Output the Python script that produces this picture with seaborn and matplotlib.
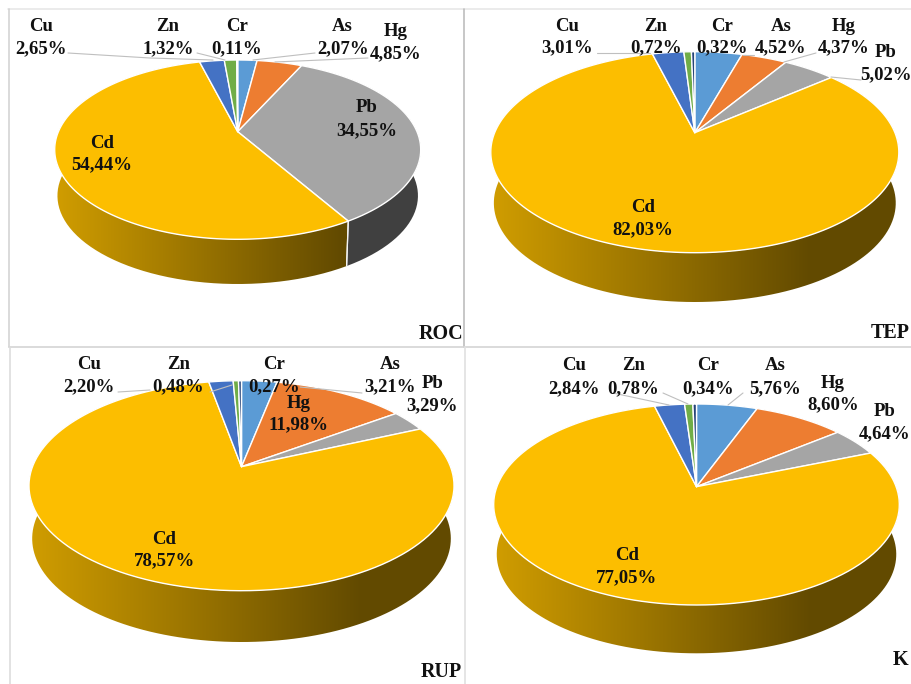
import numpy as np
import matplotlib
matplotlib.use("Agg")
import matplotlib.pyplot as plt
from matplotlib.path import Path
from matplotlib.patches import PathPatch
from matplotlib.transforms import Affine2D
import seaborn as sns

# Slice order runs clockwise from twelve o'clock
METALS = ["As", "Hg", "Pb", "Cd", "Cu", "Zn", "Cr"]
ROC_VALUES = [2.07, 4.85, 34.55, 54.44, 2.65, 1.32, 0.11]
TEP_VALUES = [4.52, 4.37, 5.02, 82.03, 3.01, 0.72, 0.32]
RUP_VALUES = [3.21, 11.98, 3.29, 78.57, 2.20, 0.48, 0.27]
K_VALUES = [5.76, 8.60, 4.64, 77.05, 2.84, 0.78, 0.34]

SLICE_COLORS = ["#5B9BD5", "#ED7D31", "#A5A5A5", "#FCBE00", "#4472C4", "#70AD47", "#264478"]

# Panel geometry in figure pixels: centre x, half width, apex y, top y, bottom y, wall bottom y
ROC_GEOM = (237.7, 183.0, 131.7, 60.0, 239.3, 284.0)
TEP_GEOM = (694.8, 204.0, 132.7, 51.7, 252.7, 302.0)
RUP_GEOM = (241.5, 212.5, 466.7, 380.7, 590.7, 642.0)
K_GEOM = (696.5, 202.8, 486.7, 404.0, 605.0, 653.3)

# Label anchors per metal: x, name y, value y
ROC_LABELS = [(342.7, 26.7, 48.3), (396.0, 31.7, 53.3), (366.7, 108.0, 130.7), (101.7, 144.0, 165.0),
              (40.7, 26.7, 48.3), (168.0, 26.7, 48.3), (236.7, 26.7, 48.3)]
TEP_LABELS = [(781.0, 26.7, 48.0), (843.3, 26.7, 48.0), (886.0, 52.3, 75.0), (643.3, 207.7, 229.3),
              (566.7, 26.7, 48.0), (656.0, 26.7, 48.0), (722.0, 26.7, 48.0)]
RUP_LABELS = [(390.0, 364.3, 386.7), (299.0, 403.3, 424.3), (432.3, 384.0, 405.7), (164.3, 540.0, 561.0),
              (89.3, 364.3, 386.7), (178.3, 364.3, 386.7), (274.3, 364.3, 386.7)]
K_LABELS = [(775.3, 366.0, 388.3), (832.7, 383.3, 405.0), (885.0, 411.7, 434.0), (627.0, 555.0, 577.3),
            (574.0, 366.0, 388.3), (633.3, 366.0, 388.3), (707.7, 366.0, 388.3)]

# Leader lines from outer labels towards their slices
ROC_LEADERS = [[(68, 53), (150, 58), (213, 60)], [(197, 53), (225, 60)], [(315, 53), (253, 60)], [(368, 58), (275, 62)]]
TEP_LEADERS = [[(597, 53), (650, 53)], [(743, 55), (754, 55)], [(784, 62), (816, 53)], [(831, 77), (861, 80)]]
RUP_LEADERS = [[(118, 392), (150, 390)], [(210, 392), (232, 385)], [(362, 393), (300, 387)]]
K_LEADERS = [[(613, 393), (669, 405)], [(663, 393), (688, 404)], [(743, 393), (728, 405)]]

PANELS = [
    ("ROC", ROC_VALUES, ROC_GEOM, ROC_LABELS, ROC_LEADERS, (419.0, 334.0)),
    ("TEP", TEP_VALUES, TEP_GEOM, TEP_LABELS, TEP_LEADERS, (871.0, 333.0)),
    ("RUP", RUP_VALUES, RUP_GEOM, RUP_LABELS, RUP_LEADERS, (420.7, 671.7)),
    ("K", K_VALUES, K_GEOM, K_LABELS, K_LEADERS, (892.7, 660.0)),
]

# Panel rules as (x0, y0, x1, y1, colour)
RULES = [
    (8, 9, 912, 9, "#E8E8E8"),
    (9, 9, 9, 347, "#D4D4D4"),
    (464.5, 9, 464.5, 347, "#BDBDBD"),
    (9, 347, 912, 347, "#D4D4D4"),
    (10, 347, 10, 684, "#DDDDDD"),
    (465.5, 347, 465.5, 684, "#E0E0E0"),
]

WALL_SHRINK = 0.985
LABEL_FONT = ["Liberation Serif", "DejaVu Serif"]

sns.set_theme(style="white")
plt.rcParams["font.family"] = LABEL_FONT
palette = sns.color_palette(SLICE_COLORS)

fig = plt.figure(figsize=(9.12, 6.84), dpi=100, facecolor="white")
ax = fig.add_axes([0, 0, 1, 1])


def make_projection(geom):
    """Tilted-disc projection taking the unit circle to the panel's pixel ellipse."""
    cx, rx, apex_y, top_y, bottom_y, _ = geom
    up, down = apex_y - top_y, bottom_y - apex_y
    k = (down - up) / (down + up)
    t = up * (1 + k)
    s = rx * np.sqrt(1 - k ** 2)

    def project(xy):
        xy = np.asarray(xy, dtype=float)
        w = 1 + k * xy[:, 1]
        return np.column_stack([cx + s * xy[:, 0] / w, apex_y - t * xy[:, 1] / w])

    return project


def wall_offset(points, geom):
    """Lower rim of the disc: the top rim shifted down and slightly narrowed."""
    cx, rx, _, top_y, bottom_y, wall_y = geom
    mid_y = (top_y + bottom_y) / 2
    ry = (bottom_y - top_y) / 2
    drop = wall_y - mid_y - ry * WALL_SHRINK
    out = points.copy()
    out[:, 0] = cx + (points[:, 0] - cx) * WALL_SHRINK
    out[:, 1] = mid_y + (points[:, 1] - mid_y) * WALL_SHRINK + drop
    return out


def wall_gradient(color, geom):
    """Horizontal shading for the side wall, bright on the left and dark to the right."""
    cx, rx, *_ = geom
    ramp = np.clip(np.linspace(0, 1, 400) / 0.78, 0, 1)
    factor = 0.83 + (0.39 - 0.83) * ramp
    rgb = np.outer(factor, np.asarray(color))[None, :, :]
    return rgb, (cx - rx - 2, cx + rx + 2)


for name, values, geom, labels, leaders, tag_xy in PANELS:
    project = make_projection(geom)
    wedges, _ = ax.pie(values, colors=palette, startangle=90, counterclock=False,
                       radius=1.0, center=(0, 0))
    cx, rx, apex_y, top_y, bottom_y, wall_y = geom

    for wedge, color in zip(wedges, palette):
        theta1, theta2 = wedge.theta1, wedge.theta2
        unit_path = wedge.get_path().transformed(wedge.get_patch_transform())
        outline = unit_path.to_polygons(transform=Affine2D().scale(1000), closed_only=True)[0] / 1000
        wedge.remove()

        # Side wall of this slice
        angles = np.radians(np.linspace(theta1, theta2, 160))
        rim = project(np.column_stack([np.cos(angles), np.sin(angles)]))
        lower = wall_offset(rim, geom)
        wall_poly = np.vstack([rim, lower[::-1], rim[:1]])
        wall = PathPatch(Path(wall_poly), facecolor="none", edgecolor="none", transform=ax.transData)
        ax.add_patch(wall)
        rgb, (x0, x1) = wall_gradient(color, geom)
        image = ax.imshow(rgb, extent=(x0, x1, wall_y + 2, top_y), aspect="auto", zorder=1,
                          interpolation="bilinear")
        image.set_clip_path(wall)

        # White seams on the front of the wall
        for end in (0, -1):
            if rim[end, 1] > (top_y + bottom_y) / 2 + 4 and 0.5 < abs(theta2 - theta1):
                ax.plot([rim[end, 0], lower[end, 0]], [rim[end, 1], lower[end, 1]],
                        color="#F4F4F4", lw=0.9, zorder=1.5)

        # Top face of this slice
        top = PathPatch(Path(project(outline), closed=True), facecolor=color, edgecolor="white",
                        linewidth=1.0, joinstyle="round", zorder=2)
        ax.add_patch(top)

    for leader in leaders:
        xs, ys = zip(*leader)
        ax.plot(xs, ys, color="#BFBFBF", lw=0.8, zorder=3)

    for metal, value, (x, y_name, y_value) in zip(METALS, values, labels):
        common = dict(ha="center", va="center", fontsize=13.5, fontweight="bold",
                      color="#111111", zorder=4)
        ax.text(x, y_name, metal, **common)
        ax.text(x, y_value, f"{value:.2f}%".replace(".", ","), **common)

    ax.text(tag_xy[0], tag_xy[1], name, ha="left", va="center", fontsize=14.5,
            fontweight="bold", color="#111111", zorder=4)

for x0, y0, x1, y1, color in RULES:
    ax.plot([x0, x1], [y0, y1], color=color, lw=1.2, zorder=0.5)

ax.set_aspect("auto")
ax.set_xlim(0, 912)
ax.set_ylim(684, 0)
ax.set_axis_off()

fig.savefig("out.png", dpi=100, facecolor="white")
